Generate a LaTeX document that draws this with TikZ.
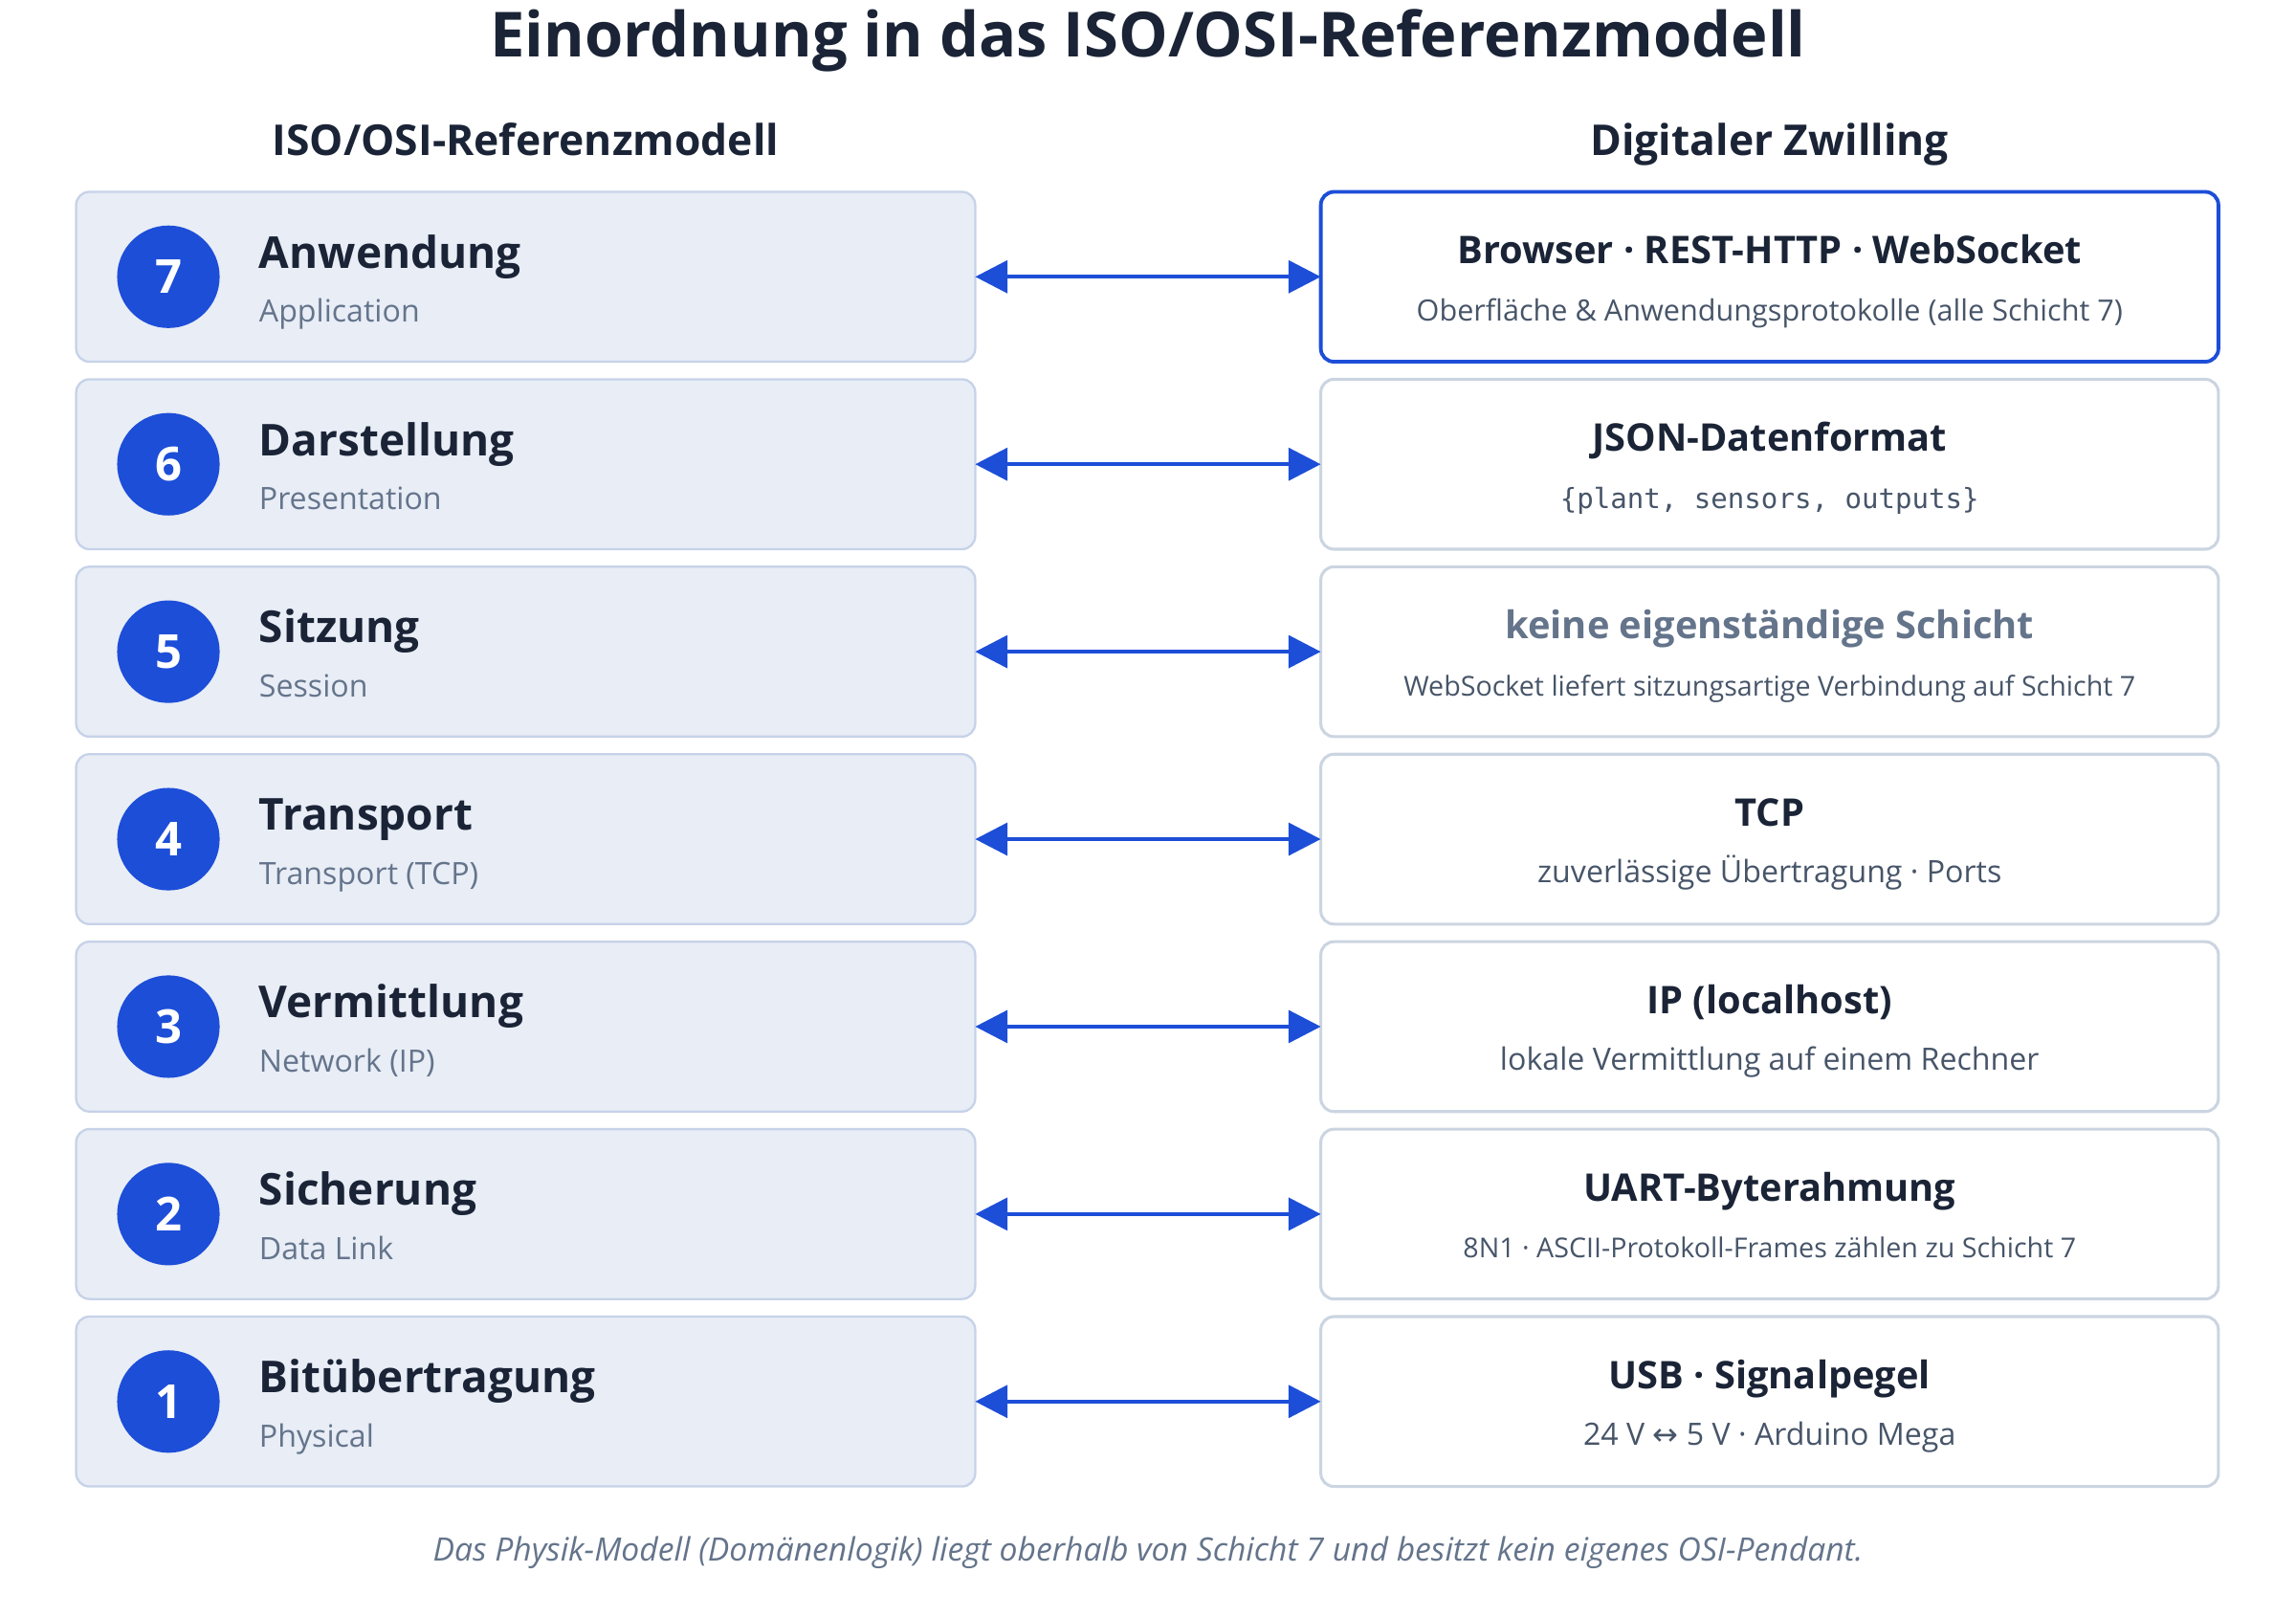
\documentclass[tikz,border=0pt]{standalone}
\usepackage{fontspec}
\IfFontExistsTF{Noto Sans Bold}{\setmainfont{Noto Sans}[BoldFont={Noto Sans Bold}]}{\setmainfont{Open Sans}}
\setmonofont{DejaVu Sans Mono}
\newfontfamily\arrowfont{DejaVu Sans}
\usepackage{xcolor}
\usepackage{tikz}
\usetikzlibrary{positioning, arrows.meta}

\definecolor{ink}{HTML}{1A2436}
\definecolor{muted}{HTML}{64748B}
\definecolor{slate}{HTML}{475569}
\definecolor{osiblue}{HTML}{1D4ED8}
\definecolor{layerfill}{HTML}{E8EDF6}
\definecolor{layerline}{HTML}{C6D2E8}
\definecolor{twinline}{HTML}{CBD5E1}

\begin{document}
\begin{tikzpicture}[x=1pt, y=1pt, node distance=12pt,
    every node/.style={text=ink, inner sep=0pt, outer sep=0pt},
    layerbox/.style={rectangle, rounded corners=9pt, draw=layerline, line width=1.5pt, fill=layerfill, minimum width=614pt, minimum height=116pt},
    twinbox/.style={rectangle, rounded corners=9pt, draw=twinline, line width=2pt, fill=white, minimum width=613pt, minimum height=116pt},
    activebox/.style={twinbox, draw=osiblue, line width=2.5pt},
    numnode/.style={circle, fill=osiblue, text=white, minimum size=70pt, font=\fontsize{32}{36}\selectfont\bfseries},
    layertitle/.style={anchor=base west, font=\fontsize{30}{36}\selectfont\bfseries},
    layersub/.style={anchor=base west, text=muted, font=\fontsize{21}{25}\selectfont},
    twintitle/.style={anchor=base, font=\fontsize{26}{31}\selectfont\bfseries},
    twinsub/.style={anchor=base, text=slate, font=\fontsize{21}{25}\selectfont},
    twinsmall/.style={anchor=base, text=slate, font=\fontsize{18.7}{22}\selectfont},
    arrow/.style={{Triangle[length=22pt, width=22pt]}-{Triangle[length=22pt, width=22pt]}, line width=2.8pt, osiblue}]

    \useasboundingbox (0,0) rectangle (1568,1104);

    % Headings
    \node[anchor=base, font=\fontsize{42.5}{48}\selectfont\bfseries] (title) at (784,1065) {Einordnung in das ISO/OSI-Referenzmodell};
    \node[anchor=base, font=\fontsize{29}{34}\selectfont\bfseries] (osihead) at (359,998) {ISO/OSI-Referenzmodell};
    \node[anchor=base, font=\fontsize{29}{34}\selectfont\bfseries] (twinhead) at (1208.5,998) {Digitaler Zwilling};

    % Layer boxes
    \node[layerbox] (anwendung) at (359,915) {};
    \node[layerbox] (darstellung) [below=of anwendung] {};
    \node[layerbox] (sitzung) [below=of darstellung] {};
    \node[layerbox] (transport) [below=of sitzung] {};
    \node[layerbox] (vermittlung) [below=of transport] {};
    \node[layerbox] (sicherung) [below=of vermittlung] {};
    \node[layerbox] (bitueb) [below=of sicherung] {};

    % Twin boxes
    \node[activebox] (browser) [right=236pt of anwendung] {};
    \node[twinbox] (json) [right=236pt of darstellung] {};
    \node[twinbox] (keine) [right=236pt of sitzung] {};
    \node[twinbox] (tcp) [right=236pt of transport] {};
    \node[twinbox] (ip) [right=236pt of vermittlung] {};
    \node[twinbox] (uart) [right=236pt of sicherung] {};
    \node[twinbox] (usb) [right=236pt of bitueb] {};

    % Layer numbers
    \node[numnode] (n7) at ([xshift=63pt]anwendung.west) {7};
    \node[numnode] (n6) at ([xshift=63pt]darstellung.west) {6};
    \node[numnode] (n5) at ([xshift=63pt]sitzung.west) {5};
    \node[numnode] (n4) at ([xshift=63pt]transport.west) {4};
    \node[numnode] (n3) at ([xshift=63pt]vermittlung.west) {3};
    \node[numnode] (n2) at ([xshift=63pt]sicherung.west) {2};
    \node[numnode] (n1) at ([xshift=63pt]bitueb.west) {1};

    % Layer names
    \node[layertitle] (name7) at ([xshift=125pt, yshift=6pt]anwendung.west) {Anwendung};
    \node[layersub] (sub7) at ([xshift=125pt, yshift=-31pt]anwendung.west) {Application};
    \node[layertitle] (name6) at ([xshift=125pt, yshift=6pt]darstellung.west) {Darstellung};
    \node[layersub] (sub6) at ([xshift=125pt, yshift=-31pt]darstellung.west) {Presentation};
    \node[layertitle] (name5) at ([xshift=125pt, yshift=6pt]sitzung.west) {Sitzung};
    \node[layersub] (sub5) at ([xshift=125pt, yshift=-31pt]sitzung.west) {Session};
    \node[layertitle] (name4) at ([xshift=125pt, yshift=6pt]transport.west) {Transport};
    \node[layersub] (sub4) at ([xshift=125pt, yshift=-31pt]transport.west) {Transport (TCP)};
    \node[layertitle] (name3) at ([xshift=125pt, yshift=6pt]vermittlung.west) {Vermittlung};
    \node[layersub] (sub3) at ([xshift=125pt, yshift=-31pt]vermittlung.west) {Network (IP)};
    \node[layertitle] (name2) at ([xshift=125pt, yshift=6pt]sicherung.west) {Sicherung};
    \node[layersub] (sub2) at ([xshift=125pt, yshift=-31pt]sicherung.west) {Data Link};
    \node[layertitle] (name1) at ([xshift=125pt, yshift=6pt]bitueb.west) {Bitübertragung};
    \node[layersub] (sub1) at ([xshift=125pt, yshift=-31pt]bitueb.west) {Physical};

    % Twin texts
    \node[twintitle] (tw7) at ([yshift=9pt]browser.center) {Browser · REST-HTTP · WebSocket};
    \node[twinsub, font=\fontsize{20}{24}\selectfont] (ts7) at ([yshift=-30pt]browser.center) {Oberfläche \& Anwendungsprotokolle (alle Schicht 7)};
    \node[twintitle] (tw6) at ([yshift=9pt]json.center) {JSON-Datenformat};
    \node[twinsub, font=\fontsize{19}{23}\selectfont\ttfamily] (ts6) at ([yshift=-30pt]json.center) {\{plant, sensors, outputs\}};
    \node[twintitle, text=muted] (tw5) at ([yshift=9pt]keine.center) {keine eigenständige Schicht};
    \node[twinsmall] (ts5) at ([yshift=-30pt]keine.center) {WebSocket liefert sitzungsartige Verbindung auf Schicht 7};
    \node[twintitle] (tw4) at ([yshift=9pt]tcp.center) {TCP};
    \node[twinsub] (ts4) at ([yshift=-30pt]tcp.center) {zuverlässige Übertragung · Ports};
    \node[twintitle] (tw3) at ([yshift=9pt]ip.center) {IP (localhost)};
    \node[twinsub] (ts3) at ([yshift=-30pt]ip.center) {lokale Vermittlung auf einem Rechner};
    \node[twintitle] (tw2) at ([yshift=9pt]uart.center) {UART-Byterahmung};
    \node[twinsmall] (ts2) at ([yshift=-30pt]uart.center) {8N1 · ASCII-Protokoll-Frames zählen zu Schicht 7};
    \node[twintitle] (tw1) at ([yshift=9pt]usb.center) {USB · Signalpegel};
    \node[twinsub] (ts1) at ([yshift=-30pt]usb.center) {24 V {\arrowfont ↔} 5 V · Arduino Mega};

    % Arrows
    \draw[arrow] (anwendung) -- (browser);
    \draw[arrow] (darstellung) -- (json);
    \draw[arrow] (sitzung) -- (keine);
    \draw[arrow] (transport) -- (tcp);
    \draw[arrow] (vermittlung) -- (ip);
    \draw[arrow] (sicherung) -- (uart);
    \draw[arrow] (bitueb) -- (usb);

    % Note
    \node[anchor=base, text=muted, font=\fontsize{22}{26}\selectfont\itshape] (note) at (784,38) {Das Physik-Modell (Domänenlogik) liegt oberhalb von Schicht 7 und besitzt kein eigenes OSI-Pendant.};

\end{tikzpicture}
\end{document}
